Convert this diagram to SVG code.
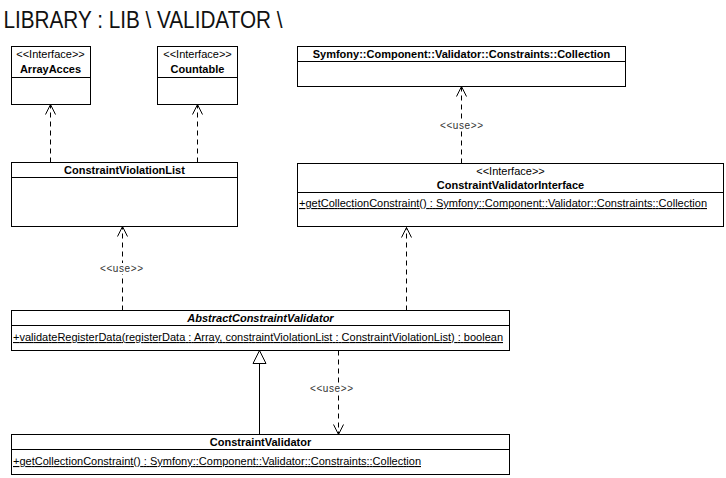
<svg xmlns="http://www.w3.org/2000/svg" width="726" height="478" viewBox="0 0 726 478">
<style>
.box{fill:#fff;stroke:#000;stroke-width:1}
.sep{stroke:#000;stroke-width:1}
text{font-family:"Liberation Sans",Arial,sans-serif;font-size:11px;fill:#000}
.st{text-anchor:middle}
.nm{text-anchor:middle;font-weight:bold}
.it{font-style:italic}
.mt{text-decoration:underline}
.lbl{text-anchor:middle;font-size:10px;fill:#333}
.lblbg{fill:#fff}
.title{font-size:24px;fill:#111}
.dep{fill:none;stroke:#000;stroke-width:1;stroke-dasharray:5,4}
.gen{fill:none;stroke:#000;stroke-width:1}
</style>
<defs>
<marker id="open" markerUnits="userSpaceOnUse" markerWidth="14" markerHeight="14" refX="11" refY="6" orient="auto">
<path d="M1,1 L11,6 L1,11" fill="none" stroke="#000" stroke-width="1"/>
</marker>
<marker id="tri" markerUnits="userSpaceOnUse" markerWidth="16" markerHeight="16" refX="14" refY="7.5" orient="auto">
<path d="M1,1 L14,7.5 L1,14 Z" fill="#fff" stroke="#000" stroke-width="1"/>
</marker>
</defs>
<rect width="726" height="478" fill="#fff"/>
<text class="title" x="3.5" y="28" textLength="279" lengthAdjust="spacingAndGlyphs">LIBRARY : LIB \ VALIDATOR \</text>

<g id="connectors">
<line class="dep" x1="50.5" y1="162.5" x2="50.5" y2="104.5" marker-end="url(#open)"/>
<line class="dep" x1="197.5" y1="162.5" x2="197.5" y2="104.5" marker-end="url(#open)"/>
<line class="dep" x1="461.5" y1="163.5" x2="461.5" y2="86.5" marker-end="url(#open)"/>
<rect class="lblbg" x="439" y="120" width="45" height="11"/>
<text class="lbl" x="461.5" y="129" textLength="43" lengthAdjust="spacing">&lt;&lt;use&gt;&gt;</text>
<line class="dep" x1="122.5" y1="310.5" x2="122.5" y2="226.5" marker-end="url(#open)"/>
<rect class="lblbg" x="99" y="263" width="45" height="11"/>
<text class="lbl" x="121.5" y="272" textLength="43" lengthAdjust="spacing">&lt;&lt;use&gt;&gt;</text>
<line class="dep" x1="406.5" y1="310.5" x2="406.5" y2="227.5" marker-end="url(#open)"/>
<line class="gen" x1="259.5" y1="434.5" x2="259.5" y2="350.5" marker-end="url(#tri)"/>
<line class="dep" x1="338.5" y1="350.5" x2="338.5" y2="434.5" marker-end="url(#open)"/>
<rect class="lblbg" x="309" y="383" width="45" height="11"/>
<text class="lbl" x="331.5" y="392" textLength="43" lengthAdjust="spacing">&lt;&lt;use&gt;&gt;</text>
</g>

<g id="ArrayAcces">
<rect class="box" x="11.5" y="46.5" width="79" height="58"/>
<line class="sep" x1="11.5" y1="77.5" x2="90.5" y2="77.5"/>
<text class="st" x="50.5" y="58">&lt;&lt;Interface&gt;&gt;</text>
<text class="nm" x="50.5" y="73">ArrayAcces</text>
</g>

<g id="Countable">
<rect class="box" x="157.5" y="46.5" width="80" height="58"/>
<line class="sep" x1="157.5" y1="77.5" x2="237.5" y2="77.5"/>
<text class="st" x="197.5" y="58">&lt;&lt;Interface&gt;&gt;</text>
<text class="nm" x="197.5" y="73">Countable</text>
</g>

<g id="Collection">
<rect class="box" x="297.5" y="46.5" width="328" height="40"/>
<line class="sep" x1="297.5" y1="61.5" x2="625.5" y2="61.5"/>
<text class="nm" x="461.5" y="58">Symfony::Component::Validator::Constraints::Collection</text>
</g>

<g id="ConstraintViolationList">
<rect class="box" x="11.5" y="162.5" width="226" height="64"/>
<line class="sep" x1="11.5" y1="177.5" x2="237.5" y2="177.5"/>
<text class="nm" x="124.5" y="174">ConstraintViolationList</text>
</g>

<g id="ConstraintValidatorInterface">
<rect class="box" x="297.5" y="163.5" width="426" height="63"/>
<line class="sep" x1="297.5" y1="192.5" x2="723.5" y2="192.5"/>
<text class="st" x="510.5" y="175">&lt;&lt;Interface&gt;&gt;</text>
<text class="nm" x="510.5" y="189">ConstraintValidatorInterface</text>
<text class="mt" x="299" y="207" textLength="408" lengthAdjust="spacing">+getCollectionConstraint() : Symfony::Component::Validator::Constraints::Collection</text>
</g>

<g id="AbstractConstraintValidator">
<rect class="box" x="11.5" y="310.5" width="498" height="40"/>
<line class="sep" x1="11.5" y1="325.5" x2="509.5" y2="325.5"/>
<text class="nm it" x="260.5" y="322">AbstractConstraintValidator</text>
<text class="mt" x="13" y="341" textLength="490" lengthAdjust="spacing">+validateRegisterData(registerData : Array, constraintViolationList : ConstraintViolationList) : boolean</text>
</g>

<g id="ConstraintValidator">
<rect class="box" x="11.5" y="434.5" width="498" height="40"/>
<line class="sep" x1="11.5" y1="449.5" x2="509.5" y2="449.5"/>
<text class="nm" x="260.5" y="446">ConstraintValidator</text>
<text class="mt" x="13" y="465" textLength="408" lengthAdjust="spacing">+getCollectionConstraint() : Symfony::Component::Validator::Constraints::Collection</text>
</g>
</svg>
